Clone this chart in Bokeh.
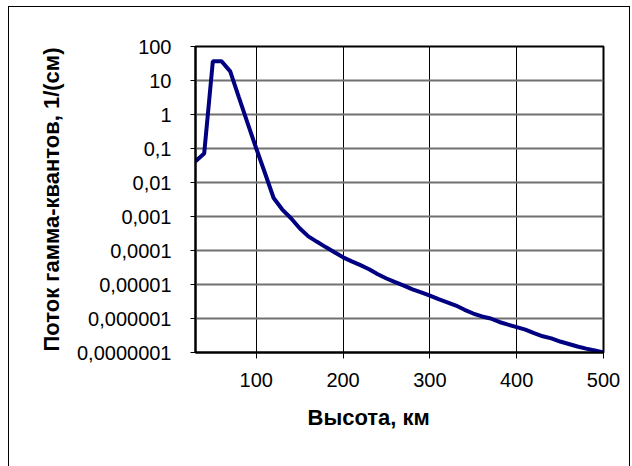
from bokeh.plotting import figure
from bokeh.models import FixedTicker, Range1d, Title
from bokeh.embed import file_html
from bokeh.resources import INLINE

heights_km = [30, 40, 50, 60, 70, 80, 90, 100, 110, 120, 130, 140, 150, 160, 170, 180,
              190, 200, 210, 220, 230, 240, 250, 260, 270, 280, 290, 300, 310, 320, 330,
              340, 350, 360, 370, 380, 390, 400, 410, 420, 430, 440, 450, 460, 470, 480,
              490, 500]
flux = [0.042, 0.071, 37, 37, 18.6, 3.2, 0.56, 0.1, 0.019, 0.0035, 0.0016, 0.00089,
        0.00045, 0.00026, 0.00018, 0.000126, 0.000089, 0.000063, 4.8e-5, 3.7e-5, 2.8e-5,
        2.0e-5, 1.5e-5, 1.17e-5, 9.3e-6, 7.2e-6, 5.9e-6, 4.7e-6, 3.7e-6, 3.0e-6, 2.4e-6,
        1.8e-6, 1.4e-6, 1.15e-6, 1.0e-6, 7.9e-7, 6.6e-7, 5.6e-7, 4.7e-7, 3.7e-7, 3.0e-7,
        2.6e-7, 2.1e-7, 1.78e-7, 1.5e-7, 1.3e-7, 1.15e-7, 1.0e-7]

x_ticks = [100, 200, 300, 400, 500]
y_ticks = [1e-7, 1e-6, 1e-5, 1e-4, 1e-3, 1e-2, 1e-1, 1, 10, 100]
y_tick_labels = ["0,0000001", "0,000001", "0,00001", "0,0001", "0,001", "0,01",
                 "0,1", "1", "10", "100"]

x_title = "Высота, км"
y_title = "Поток гамма-квантов, 1/(см)"

FONT = "Liberation Sans"

p = figure(width=622, height=460, y_axis_type="log",
           x_range=Range1d(30, 500), y_range=Range1d(1e-7, 100),
           output_backend="svg", toolbar_location=None,
           min_border_left=186, min_border_right=28,
           min_border_top=39, min_border_bottom=115)
p.margin = (6, 0, 0, 8)
p.styles = {"border-left": "1px solid black", "border-top": "1px solid black",
            "border-right": "1px solid black"}

p.line(heights_km, flux, line_color="#000080", line_width=4)

p.xaxis.ticker = FixedTicker(ticks=x_ticks)
p.yaxis.ticker = FixedTicker(ticks=y_ticks)
p.yaxis.major_label_overrides = {t: s for t, s in zip(y_ticks, y_tick_labels)}
p.xaxis.minor_tick_line_color = None
p.yaxis.minor_tick_line_color = None

for ax in (p.xaxis, p.yaxis):
    ax.axis_line_color = "black"
    ax.axis_line_width = 2
    ax.major_tick_line_color = "black"
    ax.major_tick_line_width = 1
    ax.major_tick_in = 0
    ax.major_label_text_font = FONT
    ax.major_label_text_font_size = "20px"
    ax.major_label_text_color = "black"
    ax.axis_label_text_font = FONT
    ax.axis_label_text_font_size = "22px"
    ax.axis_label_text_font_style = "bold"
    ax.axis_label_text_color = "black"

p.xaxis.major_tick_out = 6
p.yaxis.major_tick_out = 5
p.xaxis.major_label_standoff = 14
p.yaxis.major_label_standoff = 19
p.yaxis.axis_label = y_title
p.yaxis.axis_label_standoff = 10

p.add_layout(Title(text=x_title, align="left", offset=112, standoff=27,
                   text_font=FONT, text_font_size="22px", text_font_style="bold",
                   text_color="black"), "below")

p.xgrid.grid_line_color = "black"
p.xgrid.grid_line_width = 1
p.ygrid.grid_line_color = "#707070"
p.ygrid.grid_line_width = 2

p.outline_line_color = "black"
p.outline_line_width = 2
p.background_fill_color = "white"
p.border_fill_color = "white"

open("out.html", "w").write(file_html(p, INLINE))
